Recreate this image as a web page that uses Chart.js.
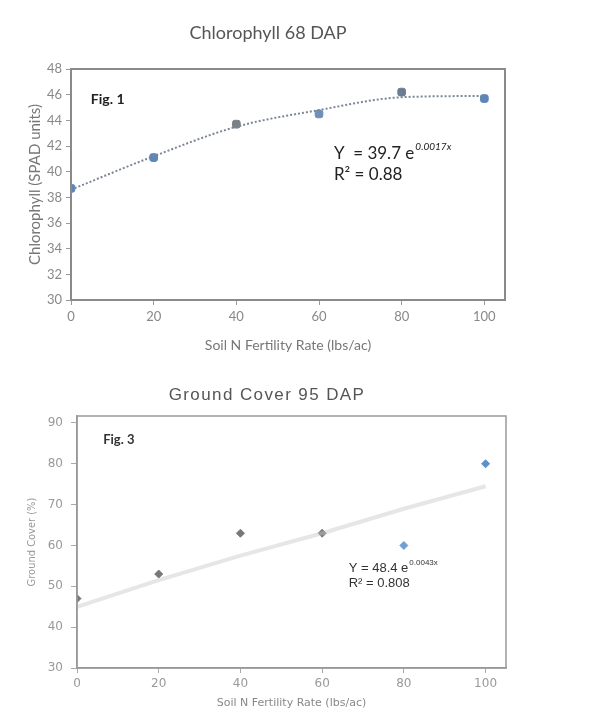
<!DOCTYPE html>
<html>
<head>
<meta charset="utf-8">
<script src="https://cdn.jsdelivr.net/npm/chart.js@4"></script>
<style>
  html, body { margin: 0; padding: 0; background: #fff; }
  #graficoClorofila { position: absolute; left: 0; top: 0; }
  #graficoCobertura { position: absolute; left: 0; top: 360px; }
</style>
</head>
<body>
<canvas id="graficoClorofila" width="616" height="360"></canvas>
<canvas id="graficoCobertura" width="616" height="355"></canvas>
<script>
// dados
const taxasN = [0, 20, 40, 60, 80, 100];
const clorofila = [38.7, 41.1, 43.7, 44.5, 46.2, 45.7];
const clorofilaTendencia = [38.6, 41.2, 43.5, 44.8, 45.8, 45.9];
const cobertura = [47, 53, 63, 63, 60, 80];
const coberturaTendencia = [45, 51.5, 57.5, 63, 69, 74.5];

// cores dos marcadores (alguns cinza, outros azuis)
const coresClorofila = ['#5a86bd', '#5a86bd', '#7d7f86', '#6f8fb8', '#6b7c93', '#5f86b8'];
const coresCobertura = ['#777', '#777', '#777', '#777', '#6f9fd0', '#5d8fc8'];

const pontos = (xs, ys) => xs.map((x, i) => ({x, y: ys[i]}));

// plugin que desenha o título, a moldura da área do gráfico e os textos (Fig., equação)
const moldura = {
    id: 'moldura',
    afterDraw(chart, args, opts) {
        const {ctx, chartArea: a, scales} = chart;
        ctx.save();
        ctx.strokeStyle = opts.cor;
        ctx.lineWidth = opts.largura;
        ctx.strokeRect(a.left, a.top, a.right - a.left, a.bottom - a.top);

        // título
        const t0 = opts.titulo;
        ctx.font = t0.fonte;
        ctx.fillStyle = t0.cor;
        ctx.textAlign = 'center';
        ctx.textBaseline = 'middle';
        ctx.letterSpacing = t0.espaco || '0px';
        ctx.fillText(t0.texto, t0.x, t0.y);
        ctx.letterSpacing = '0px';

        ctx.textAlign = 'left';
        (opts.textos || []).forEach((t) => {
            const px = scales.x.getPixelForValue(t.x);
            const py = scales.y.getPixelForValue(t.y);
            ctx.font = t.fonte;
            ctx.fillStyle = t.cor;
            ctx.fillText(t.texto, px, py);
            if (t.sup) {
                const w = ctx.measureText(t.texto).width;
                ctx.font = t.fonteSup;
                ctx.fillText(t.sup, px + w + 1, py - 6);
            }
        });
        ctx.restore();
    }
};

// gráfico de cima: clorofila
new Chart(document.getElementById('graficoClorofila').getContext('2d'), {
    type: 'scatter',
    data: {
        datasets: [
            {
                type: 'line',
                data: pontos(taxasN, clorofilaTendencia),
                borderColor: '#7c8698',
                borderWidth: 2,
                borderDash: [2, 2],
                pointRadius: 0,
                cubicInterpolationMode: 'monotone',
                fill: false,
            },
            {
                data: pontos(taxasN, clorofila),
                pointStyle: 'rectRounded',
                pointRadius: 4.5,
                pointBackgroundColor: coresClorofila,
                pointBorderColor: coresClorofila,
            },
        ],
    },
    options: {
        responsive: false,
        animation: false,
        layout: { padding: { left: 0, right: 111, top: 69, bottom: 0 } },
        plugins: {
            legend: { display: false },
            tooltip: { enabled: false },
            title: { display: false },
            moldura: {
                cor: '#8a8a8a',
                largura: 2,
                titulo: { texto: 'Chlorophyll 68 DAP', x: 268, y: 33, fonte: '18px Lato', cor: '#555' },
                textos: [
                    { texto: 'Fig. 1', x: 4.8, y: 45.6, fonte: 'bold 14px Lato', cor: '#222' },
                    { texto: 'Y  = 39.7 e', sup: '0.0017x', x: 63.6, y: 41.45, fonte: '17px Lato', fonteSup: 'italic 10px Lato', cor: '#222' },
                    { texto: 'R\u00b2 = 0.88', x: 63.6, y: 39.75, fonte: '17px Lato', cor: '#222' },
                ],
            },
        },
        scales: {
            x: {
                type: 'linear',
                min: 0,
                max: 105,
                afterFit: (s) => { s.height = 60; },
                ticks: { stepSize: 20, includeBounds: false, color: '#888', padding: 4, font: { family: 'Lato', size: 13 } },
                grid: { drawOnChartArea: false, drawTicks: true, tickLength: 5, color: '#999' },
                border: { display: true, color: '#8a8a8a', width: 2 },
                title: { display: true, text: 'Soil N Fertility Rate (lbs/ac)', color: '#777', font: { family: 'Lato', size: 14 }, padding: { top: 0, bottom: 6 } },
            },
            y: {
                min: 30,
                max: 48,
                afterFit: (s) => { s.width = 71; },
                ticks: { stepSize: 2, color: '#888', padding: 4, font: { family: 'Lato', size: 13 } },
                grid: { drawOnChartArea: false, drawTicks: true, tickLength: 5, color: '#999' },
                border: { display: true, color: '#8a8a8a', width: 2 },
                title: { display: true, text: 'Chlorophyll (SPAD units)', color: '#777', font: { family: 'Lato', size: 15 }, padding: { top: 26, bottom: 0 } },
            },
        },
    },
    plugins: [moldura],
});

// gráfico de baixo: cobertura do solo
new Chart(document.getElementById('graficoCobertura').getContext('2d'), {
    type: 'scatter',
    data: {
        datasets: [
            {
                type: 'line',
                data: pontos(taxasN, coberturaTendencia),
                borderColor: 'rgba(200,200,200,0.45)',
                borderWidth: 4,
                pointRadius: 0,
                tension: 0,
                fill: false,
            },
            {
                data: pontos(taxasN, cobertura),
                pointStyle: 'rectRot',
                pointRadius: 4,
                pointBackgroundColor: coresCobertura,
                pointBorderColor: coresCobertura,
            },
        ],
    },
    options: {
        responsive: false,
        animation: false,
        layout: { padding: { left: 0, right: 110, top: 56, bottom: 0 } },
        plugins: {
            legend: { display: false },
            tooltip: { enabled: false },
            title: { display: false },
            moldura: {
                cor: '#999',
                largura: 1.5,
                titulo: { texto: 'Ground Cover 95 DAP', x: 267, y: 35, fonte: '17px "Liberation Sans"', cor: '#555', espaco: '1.4px' },
                textos: [
                    { texto: 'Fig. 3', x: 6.4, y: 85.9, fonte: 'bold 13px Lato', cor: '#333' },
                    { texto: 'Y = 48.4 e', sup: '0.0043x', x: 66.5, y: 54.3, fonte: '13px "Liberation Sans"', fonteSup: '8px "Liberation Sans"', cor: '#333' },
                    { texto: 'R\u00b2 = 0.808', x: 66.5, y: 50.8, fonte: '13px "Liberation Sans"', cor: '#333' },
                ],
            },
        },
        scales: {
            x: {
                type: 'linear',
                min: 0,
                max: 105,
                afterFit: (s) => { s.height = 47; },
                ticks: { stepSize: 20, includeBounds: false, color: '#999', padding: 4, font: { family: 'DejaVu Sans', size: 12 } },
                grid: { drawOnChartArea: false, drawTicks: true, tickLength: 5, color: '#aaa' },
                border: { display: true, color: '#999', width: 1.5 },
                title: { display: true, text: 'Soil N Fertility Rate (lbs/ac)', color: '#888', font: { family: 'DejaVu Sans', size: 11 }, padding: { top: 0, bottom: 5 } },
            },
            y: {
                min: 30,
                max: 91.7,
                afterFit: (s) => { s.width = 77; },
                ticks: { stepSize: 10, includeBounds: false, color: '#999', padding: 8, font: { family: 'DejaVu Sans', size: 12 } },
                grid: { drawOnChartArea: false, drawTicks: true, tickLength: 6, color: '#aaa' },
                border: { display: true, color: '#999', width: 1.5 },
                title: { display: true, text: 'Ground Cover (%)', color: '#999', font: { family: '"DejaVu Sans Condensed", "Liberation Sans", sans-serif', size: 11 }, padding: { top: 26, bottom: 0 } },
            },
        },
    },
    plugins: [moldura],
});
</script>
</body>
</html>
